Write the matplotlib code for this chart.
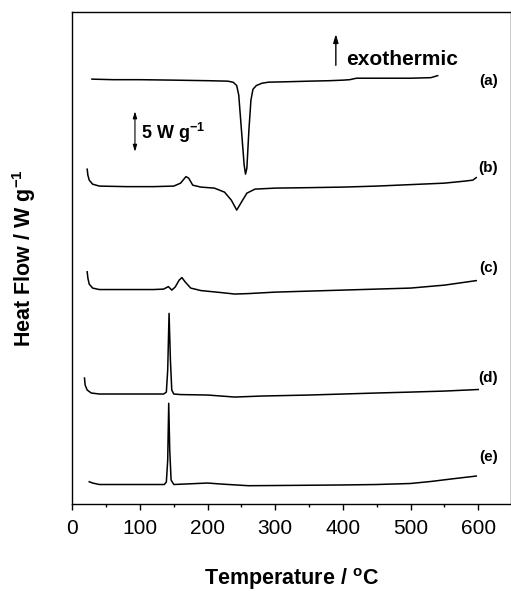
import matplotlib.pyplot as plt
from matplotlib.ticker import MultipleLocator

plt.rcParams['font.family'] = ['Liberation Sans', 'DejaVu Sans']
plt.rcParams['mathtext.fontset'] = 'custom'
plt.rcParams['mathtext.rm'] = 'Liberation Sans'
plt.rcParams['mathtext.bf'] = 'Liberation Sans:bold'

# ~  DSC traces, offset vertically (W g-1)

temp_a = [29, 60, 100, 150, 200, 230, 238, 243, 246, 250, 254, 256, 258, 261, 264, 267, 272,
          280, 290, 320, 350, 380, 400, 410, 420, 450, 500, 530, 535, 540]
flow_a = [46.20, 46.14, 46.14, 46.09, 46.03, 45.98, 45.85, 45.50, 44.46, 40.65, 36.85, 35.87,
          36.52, 40.65, 43.91, 45.10, 45.50, 45.75, 45.87, 45.92, 45.98, 46.03, 46.09, 46.14,
          46.30, 46.30, 46.30, 46.36, 46.47, 46.58]

temp_b = [22, 23, 25, 30, 40, 80, 120, 150, 160, 168, 172, 178, 190, 210, 225, 235, 243, 250,
          258, 270, 300, 350, 400, 450, 500, 550, 580, 592, 597]
flow_b = [36.41, 35.76, 35.22, 34.78, 34.57, 34.51, 34.51, 34.57, 34.89, 35.60, 35.43, 34.67,
          34.46, 34.35, 33.91, 33.04, 31.96, 32.83, 33.80, 34.24, 34.35, 34.40, 34.46, 34.57,
          34.73, 34.89, 35.11, 35.22, 35.49]

temp_c = [22, 23, 25, 30, 40, 80, 120, 135, 142, 147, 152, 158, 162, 167, 175, 190, 220, 240,
          260, 300, 350, 400, 450, 500, 550, 597]
flow_c = [25.25, 24.57, 23.91, 23.48, 23.32, 23.32, 23.32, 23.37, 23.64, 23.26, 23.59, 24.35,
          24.62, 24.13, 23.48, 23.21, 22.99, 22.83, 22.88, 23.04, 23.15, 23.26, 23.37, 23.48,
          23.80, 24.29]

temp_d = [18, 19, 22, 28, 40, 100, 135, 139, 141, 143, 145, 147, 150, 160, 200, 240, 280, 350,
          400, 450, 500, 550, 600]
flow_d = [13.70, 12.93, 12.39, 12.07, 11.96, 11.96, 11.96, 12.17, 14.57, 20.73, 15.65, 12.39,
          11.96, 11.90, 11.85, 11.63, 11.74, 11.85, 11.96, 12.07, 12.17, 12.28, 12.45]

temp_e = [25, 30, 40, 100, 136, 139, 141, 142.5, 144, 146, 150, 200, 220, 260, 300, 400, 450,
          500, 530, 560, 597]
flow_e = [2.42, 2.28, 2.12, 2.12, 2.12, 2.39, 4.78, 10.95, 5.87, 2.61, 2.12, 2.28, 2.17, 1.99,
          2.01, 2.07, 2.12, 2.23, 2.45, 2.72, 3.04]

curves = [(temp_a, flow_a), (temp_b, flow_b), (temp_c, flow_c), (temp_d, flow_d), (temp_e, flow_e)]
curve_labels = ['(a)', '(b)', '(c)', '(d)', '(e)']
label_y = [46.0, 36.5, 25.65, 13.7, 5.14]

# -------------------------------------------------------------------------------- #

fig = plt.figure(figsize=(5.11, 5.91), dpi=100)
ax = fig.add_axes([0.1415, 0.1472, 0.858, 0.8325])

for (t, f) in curves:
    ax.plot(t, f, color='black', linewidth=1.1)

for lbl, y in zip(curve_labels, label_y):
    ax.text(615, y, lbl, fontsize=11, fontweight='bold', ha='center', va='center')

# exothermic direction
ax.annotate('', xy=(389.5, 51.4), xytext=(389.5, 47.4),
            arrowprops=dict(arrowstyle='-|>,head_length=0.5,head_width=0.15', color='black', lw=1.0))
ax.text(405, 48.3, 'exothermic', fontsize=15, fontweight='bold', ha='left', va='center')

# 5 W g-1 scale bar
ax.annotate('', xy=(92.6, 43.0), xytext=(92.6, 38.0),
            arrowprops=dict(arrowstyle='<|-|>,head_length=0.4,head_width=0.12', color='black', lw=0.8))
ax.text(102, 40.4, r'5 W g$^{\mathbf{-1}}$', fontsize=13, fontweight='bold', ha='left', va='center')

ax.set_xlim(0, 648)
ax.set_ylim(0, 53.5)
ax.xaxis.set_major_locator(MultipleLocator(100))
ax.xaxis.set_minor_locator(MultipleLocator(50))
ax.set_xticks([0, 100, 200, 300, 400, 500, 600])
ax.tick_params(axis='x', which='major', direction='out', length=4, width=1, labelsize=15, pad=7)
ax.tick_params(axis='x', which='minor', direction='out', length=2, width=1)
ax.set_yticks([])

for s in ax.spines.values():
    s.set_linewidth(1.0)

ax.set_xlabel(r'Temperature / $\mathbf{^{o}}$C', fontsize=15.5, fontweight='bold', labelpad=20)
ax.set_ylabel(r'Heat Flow / W g$^{\mathbf{-1}}$', fontsize=15.5, fontweight='bold', labelpad=25)

plt.savefig('out.png', dpi=100)
